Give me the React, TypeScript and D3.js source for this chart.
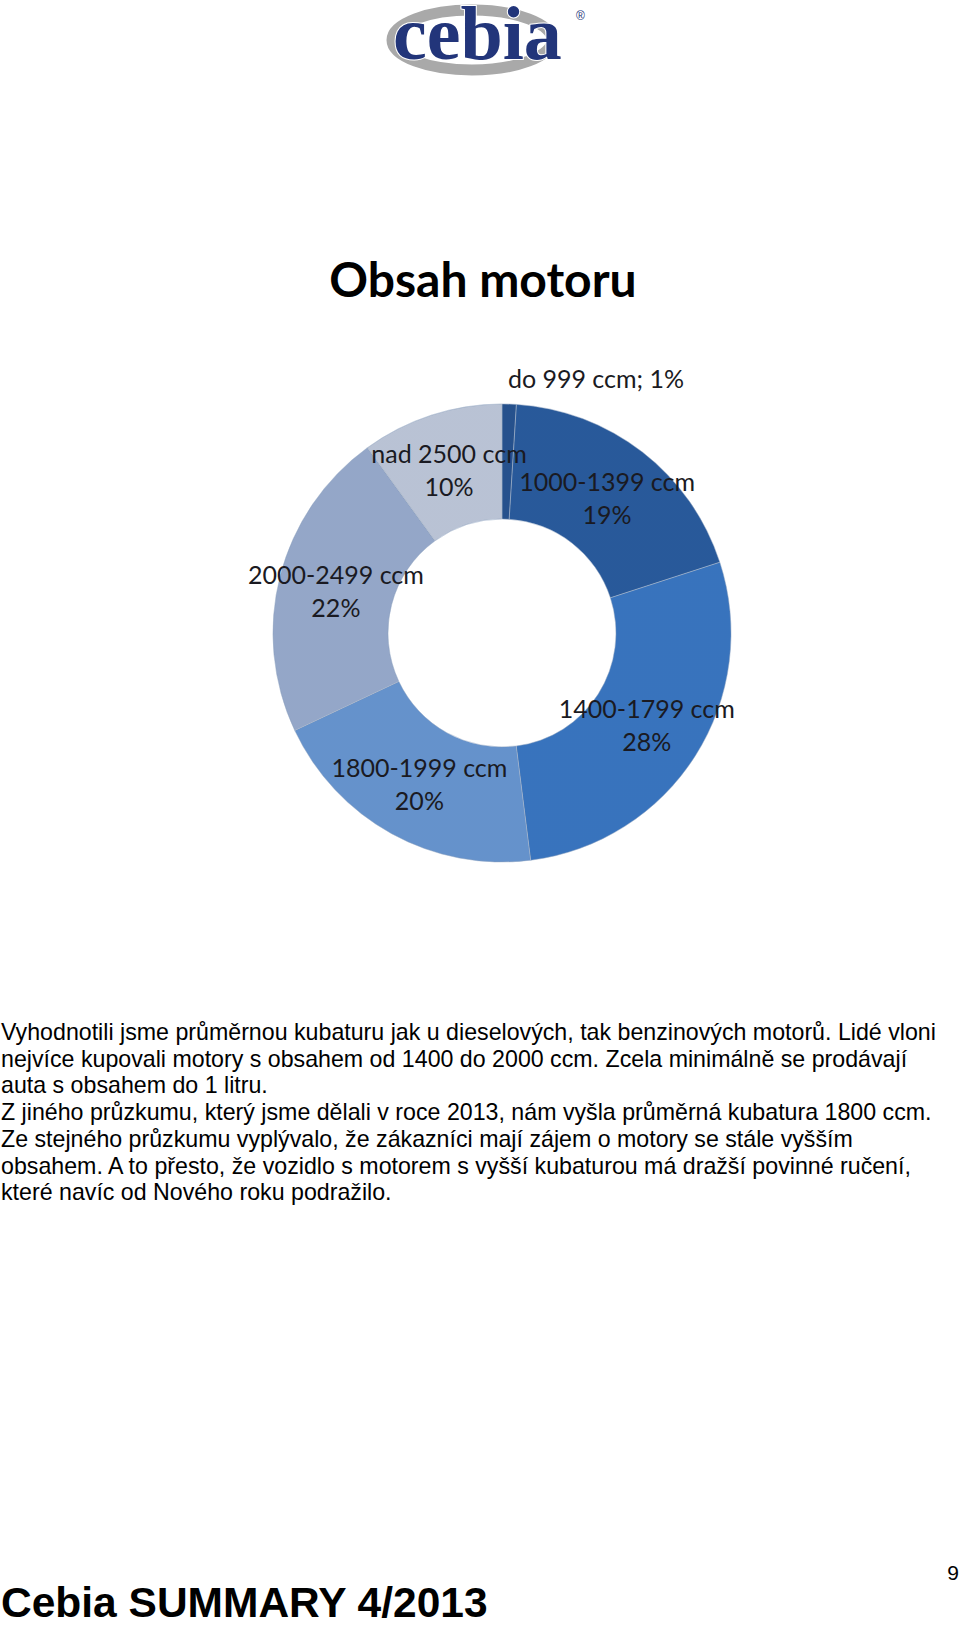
import React from "react";
import * as d3 from "d3";

const categories = ["do 999 ccm", "1000-1399 ccm", "1400-1799 ccm", "1800-1999 ccm", "2000-2499 ccm", "nad 2500 ccm"];
const shares = [1, 19, 28, 20, 22, 10];
const sliceColors = ["#2a5a9c", "#2d63ab", "#3e80d2", "#70a2e2", "#a4b9de", "#cdd8ec"];

const chartTitle = "Obsah motoru";
const paragraphLines = [
  "Vyhodnotili jsme průměrnou kubaturu jak u dieselových, tak benzinových motorů. Lidé vloni",
  "nejvíce kupovali motory s obsahem od 1400 do 2000 ccm. Zcela minimálně se prodávají",
  "auta s obsahem do 1 litru.",
  "Z jiného průzkumu, který jsme dělali v roce 2013, nám vyšla průměrná kubatura 1800 ccm.",
  "Ze stejného průzkumu vyplývalo, že zákazníci mají zájem o motory se stále vyšším",
  "obsahem. A to přesto, že vozidlo s motorem s vyšší kubaturou má dražší povinné ručení,",
  "které navíc od Nového roku podražilo.",
];
const footerText = "Cebia SUMMARY 4/2013";
const pageNumber = "9";

const W = 960;
const H = 1626;
const cx = 502;
const cy = 633;
const R = 229;
const r = 114;

export default function App() {
  const pieData = d3.pie<number>().sort(null).value((d) => d)(shares);
  const arc = d3.arc<d3.PieArcDatum<number>>().innerRadius(r).outerRadius(R);
  const labelArc = d3.arc<d3.PieArcDatum<number>>().innerRadius((R + r) / 2).outerRadius((R + r) / 2);
  const outerArc = d3.arc<d3.PieArcDatum<number>>().innerRadius(R + 22).outerRadius(R + 22);

  return (
    <div style={{ position: "absolute", left: 0, top: 0, width: W, height: H, background: "#fff" }}>
      <svg width={W} height={H} viewBox={`0 0 ${W} ${H}`} style={{ display: "block" }}>
        <defs>
          <radialGradient id="bevel" gradientUnits="userSpaceOnUse" cx={cx} cy={cy} r={R}>
            <stop offset={r / R} stopColor="#000" stopOpacity={0.16} />
            <stop offset={(r + 7) / R} stopColor="#000" stopOpacity={0.0} />
            <stop offset={(r + 12) / R} stopColor="#fff" stopOpacity={0.08} />
            <stop offset={0.88} stopColor="#fff" stopOpacity={0} />
            <stop offset={0.96} stopColor="#fff" stopOpacity={0.12} />
            <stop offset={1} stopColor="#000" stopOpacity={0.1} />
          </radialGradient>
        </defs>

        {/* logo */}
        <g>
          <ellipse cx={472} cy={40} rx={80} ry={30} fill="none" stroke="#a9a9a9" strokeWidth={11} />
          <text x={393} y={59} fontFamily="'Liberation Serif', serif" fontWeight="bold" fontSize={76}
            fill="#22357a" stroke="#fff" strokeWidth={2} paintOrder="stroke">cebia</text>
          <text x={576} y={20} fontFamily="'Liberation Sans', Arial, sans-serif" fontSize={12} fill="#22357a">®</text>
        </g>

        {/* title */}
        <text x={483} y={297} textAnchor="middle" fontFamily="Lato, 'Open Sans', sans-serif" fontWeight="bold"
          fontSize={48} fill="#000">{chartTitle}</text>

        {/* donut */}
        <g transform={`translate(${cx},${cy})`}>
          {pieData.map((d, i) => (
            <path key={"s" + i} d={arc(d) || ""} fill={sliceColors[i]} stroke="#1f4a86" strokeOpacity={0.3} strokeWidth={1} />
          ))}
        </g>
        <g>
          {pieData.map((d, i) => (
            <path key={"b" + i} d={arc(d) || ""} transform={`translate(${cx},${cy})`} fill="url(#bevel)"
              stroke="#fff" strokeOpacity={0.25} strokeWidth={1} />
          ))}
        </g>
        <g transform={`translate(${cx},${cy})`} fontFamily="Lato, 'Open Sans', sans-serif" fontSize={25} fill="#1a1a22">
          {pieData.map((d, i) => {
            if (i === 0) {
              const [x, y] = outerArc.centroid(d);
              return (
                <text key={"l" + i} x={x - 2} y={y - 4} dominantBaseline="central" textAnchor="start">
                  {categories[i]}; {shares[i]}%
                </text>
              );
            }
            const [x, y] = labelArc.centroid(d);
            return (
              <g key={"l" + i}>
                <text x={x} y={y - 16.5} dominantBaseline="central" textAnchor="middle">{categories[i]}</text>
                <text x={x} y={y + 16.5} dominantBaseline="central" textAnchor="middle">{shares[i]}%</text>
              </g>
            );
          })}
        </g>

        {/* paragraph */}
        <g fontFamily="'Liberation Sans', Arial, sans-serif" fontSize={23.2} fill="#000">
          {paragraphLines.map((line, i) => (
            <text key={"p" + i} x={1} y={1040 + i * 26.7}>{line}</text>
          ))}
        </g>

        {/* footer */}
        <text x={959} y={1580} textAnchor="end" fontFamily="'Liberation Sans', Arial, sans-serif" fontSize={21} fill="#000">{pageNumber}</text>
        <text x={1} y={1617} fontFamily="'Liberation Sans', Arial, sans-serif" fontWeight="bold" fontSize={42.5} fill="#000">{footerText}</text>
      </svg>
    </div>
  );
}
